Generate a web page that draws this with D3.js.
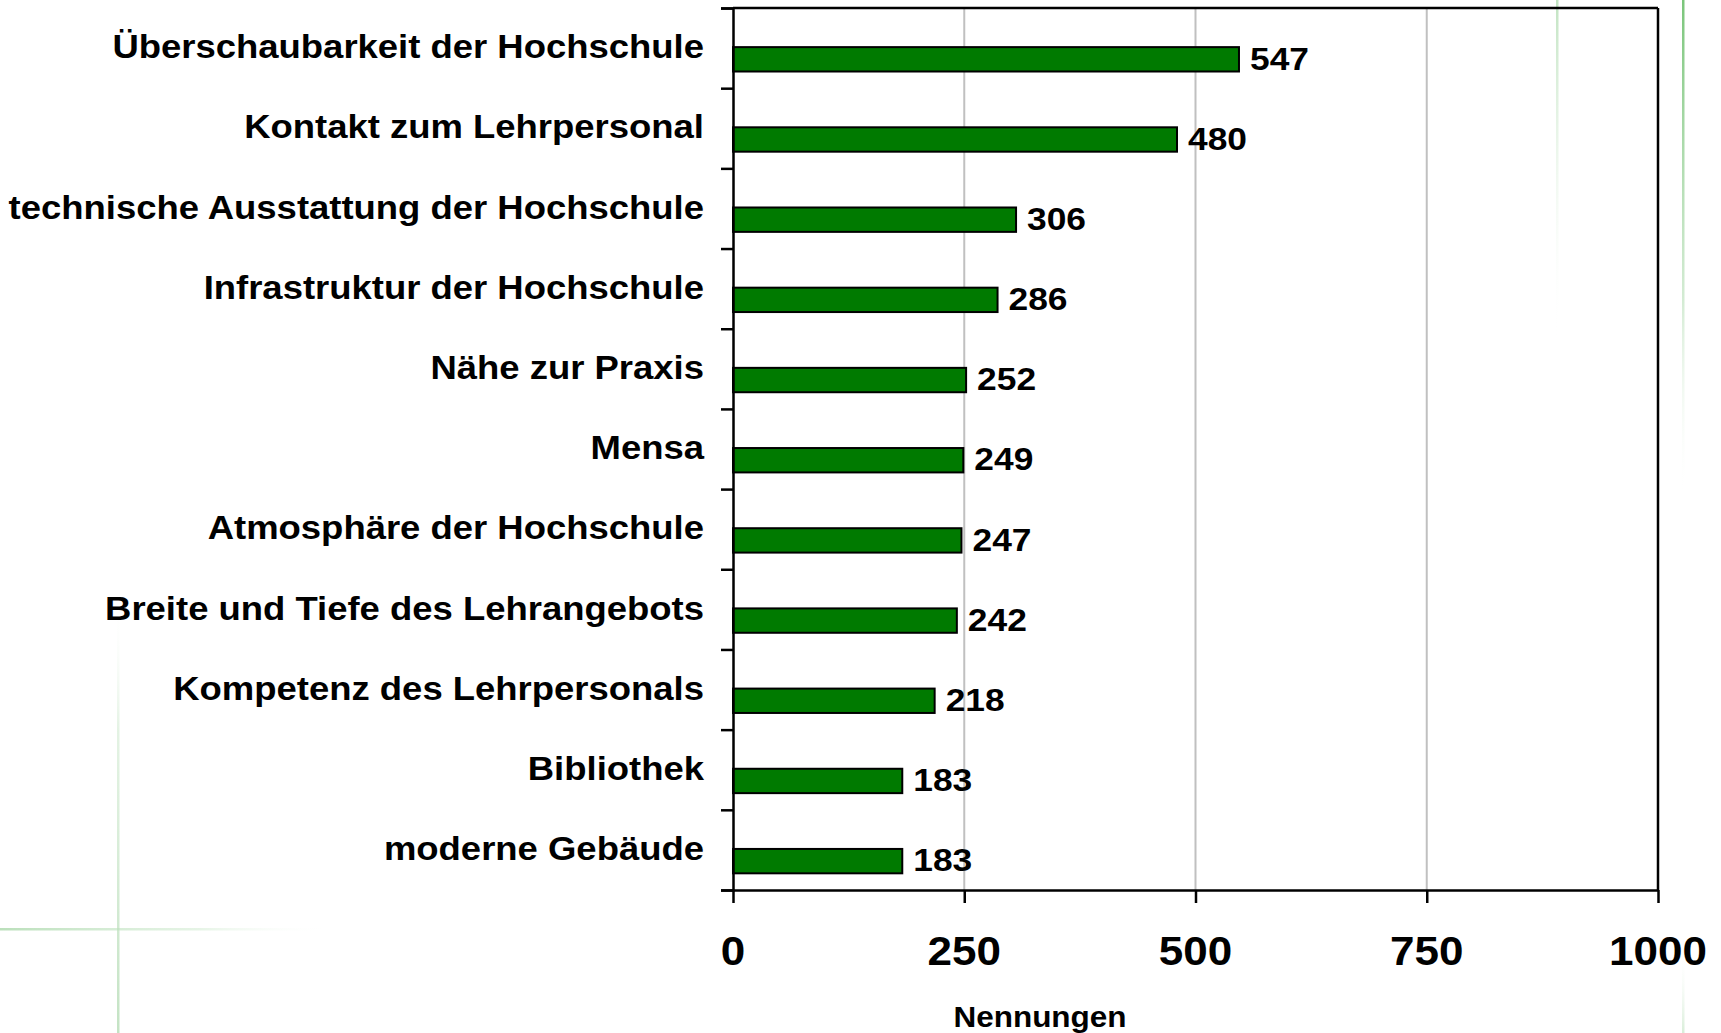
<!DOCTYPE html>
<html>
<head>
<meta charset="utf-8">
<script src="https://cdn.jsdelivr.net/npm/d3@7"></script>
<style>
  html, body { margin: 0; padding: 0; background: #ffffff; }
  svg { display: block; }
  text { font-family: "Liberation Sans", Arial, Helvetica, sans-serif; font-weight: bold; fill: #000; }
</style>
</head>
<body>
<script>
const categories = [
  "Überschaubarkeit der Hochschule",
  "Kontakt zum Lehrpersonal",
  "technische Ausstattung der Hochschule",
  "Infrastruktur der Hochschule",
  "Nähe zur Praxis",
  "Mensa",
  "Atmosphäre der Hochschule",
  "Breite und Tiefe des Lehrangebots",
  "Kompetenz des Lehrpersonals",
  "Bibliothek",
  "moderne Gebäude"
];
const values = [547, 480, 306, 286, 252, 249, 247, 242, 218, 183, 183];
const xTicks = [0, 250, 500, 750, 1000];
const xDomain = [0, 1000];
const axisTitle = "Nennungen";

(function () {
const W = 1721, H = 1033;
const pLeft = 733, pRight = 1658, pTop = 8, pBottom = 890;

const svg = d3.select("body").append("svg").attr("width", W).attr("height", H);

// decorative background lines
const defs = svg.append("defs");
function grad(id, x1, y1, x2, y2, stops) {
  const g = defs.append("linearGradient").attr("id", id)
    .attr("x1", x1).attr("y1", y1).attr("x2", x2).attr("y2", y2);
  stops.forEach(s => g.append("stop").attr("offset", s[0]).attr("stop-color", s[1]).attr("stop-opacity", s[2]));
}
grad("gh", 0, 0, 1, 0, [[0, "#9ed29e", 0.7], [0.6, "#bfe3bf", 0.4], [1, "#ffffff", 0]]);
grad("gv1", 0, 0, 0, 1, [[0, "#ffffff", 0], [0.3, "#c8e6c8", 0.5], [1, "#b5dcb5", 0.8]]);
grad("gv2", 0, 0, 0, 1, [[0, "#a8d8a8", 0.7], [1, "#ffffff", 0]]);
grad("gv3", 0, 0, 0, 1, [[0, "#6cbf6c", 0.9], [0.6, "#a8d8a8", 0.5], [1, "#ffffff", 0]]);
grad("gv4", 0, 0, 0, 1, [[0, "#ffffff", 0], [1, "#c8e6c8", 0.7]]);
svg.append("rect").attr("x", 0).attr("y", 928).attr("width", 330).attr("height", 2.5).attr("fill", "url(#gh)");
svg.append("rect").attr("x", 117).attr("y", 600).attr("width", 2.5).attr("height", 433).attr("fill", "url(#gv1)");
svg.append("rect").attr("x", 1556).attr("y", 0).attr("width", 2.5).attr("height", 340).attr("fill", "url(#gv2)");
svg.append("rect").attr("x", 1682).attr("y", 0).attr("width", 2.5).attr("height", 500).attr("fill", "url(#gv3)");
svg.append("rect").attr("x", 1682).attr("y", 950).attr("width", 2.5).attr("height", 83).attr("fill", "url(#gv4)");

const x = d3.scaleLinear().domain(xDomain).range([pLeft, pRight]);
const y = d3.scaleBand().domain(categories).range([pTop, pBottom]).padding(0);
const yIdx = d3.scaleLinear().domain([0, categories.length]).range([pTop, pBottom]);
const bw = y.bandwidth();

// gridlines
svg.append("g").selectAll("line").data(xTicks.filter(t => t > xDomain[0] && t < xDomain[1])).join("line")
  .attr("x1", d => x(d)).attr("x2", d => x(d)).attr("y1", pTop).attr("y2", pBottom)
  .attr("stroke", "#c0c0c0").attr("stroke-width", 2);

// frame top & right
svg.append("line").attr("x1", pLeft).attr("x2", pRight).attr("y1", pTop).attr("y2", pTop)
  .attr("stroke", "#000").attr("stroke-width", 2.5);
svg.append("line").attr("x1", pRight).attr("x2", pRight).attr("y1", pTop).attr("y2", pBottom)
  .attr("stroke", "#000").attr("stroke-width", 2.5);

// bars
svg.append("g").selectAll("rect").data(values).join("rect")
  .attr("x", x(0))
  .attr("y", (d, i) => y(categories[i]) + bw * 0.488)
  .attr("width", d => x(d) - x(0))
  .attr("height", bw * 0.304)
  .attr("fill", "#007a00")
  .attr("stroke", "#000")
  .attr("stroke-width", 2);

// value labels
svg.append("g").selectAll("text").data(values).join("text")
  .attr("transform", (d, i) => `translate(${x(d) + 11},${y(categories[i]) + bw * 0.792 - 2}) scale(1.14,1)`)
  .attr("font-size", 31)
  .text(d => d);

// y axis with boundary ticks
const yAxis = svg.append("g").attr("transform", `translate(${pLeft},0)`)
  .call(d3.axisLeft(yIdx).tickValues(d3.range(categories.length + 1)).tickSize(12).tickFormat(""));
yAxis.select(".domain").attr("stroke", "#000").attr("stroke-width", 2.5);
yAxis.selectAll(".tick line").attr("stroke", "#000").attr("stroke-width", 2.5);

// category labels
svg.append("g").selectAll("text").data(categories).join("text")
  .attr("transform", d => `translate(704,${y(d) + bw * 0.64 - 1}) scale(1.105,1)`)
  .attr("text-anchor", "end")
  .attr("font-size", 33)
  .text(d => d);

// x axis
const xAxis = svg.append("g").attr("transform", `translate(0,${pBottom})`)
  .call(d3.axisBottom(x).tickValues(xTicks).tickSize(13).tickSizeOuter(0).tickFormat(""));
xAxis.select(".domain").attr("stroke", "#000").attr("stroke-width", 2.5);
xAxis.selectAll(".tick line").attr("stroke", "#000").attr("stroke-width", 2.5);

svg.append("g").selectAll("text").data(xTicks).join("text")
  .attr("transform", d => `translate(${x(d)},965) scale(1.1,1)`)
  .attr("text-anchor", "middle")
  .attr("font-size", 40)
  .text(d => d);

svg.append("text")
  .attr("transform", `translate(1040,1027) scale(1.05,1)`)
  .attr("text-anchor", "middle")
  .attr("font-size", 30)
  .text(axisTitle);
})();
</script>
</body>
</html>
